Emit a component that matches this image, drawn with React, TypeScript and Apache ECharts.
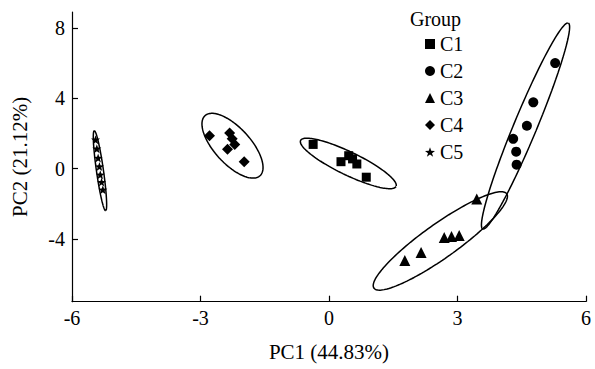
import React, { useEffect, useRef } from "react";
import * as echarts from "echarts";

const groups = ["C1", "C2", "C3", "C4", "C5"];
const c1X = [-0.37, 0.28, 0.46, 0.55, 0.65, 0.87];
const c1Y = [1.38, 0.4, 0.74, 0.56, 0.27, -0.48];
const c2X = [5.28, 4.77, 4.62, 4.3, 4.37, 4.38];
const c2Y = [6.0, 3.77, 2.44, 1.7, 0.97, 0.23];
const c3X = [3.45, 2.69, 2.86, 3.04, 2.15, 1.77];
const c3Y = [-1.72, -3.9, -3.85, -3.79, -4.75, -5.21];
const c4X = [-2.79, -2.32, -2.26, -2.2, -2.37, -1.98];
const c4Y = [1.88, 2.03, 1.7, 1.38, 1.1, 0.4];
const c5X = [-5.45, -5.42, -5.39, -5.36, -5.34, -5.31, -5.28];
const c5Y = [1.65, 1.14, 0.61, 0.13, -0.34, -0.76, -1.19];

// ellipse: centre, major half-axis vector, minor half-axis vector (data units)
const ellCx = [0.451, 4.588, 2.599, -2.253, -5.347];
const ellCy = [0.3, 2.426, -4.1, 1.307, -0.114];
const ellUx = [1.114, 0.999, 1.55, 0.642, 0.133];
const ellUy = [-1.307, 5.85, 2.68, -1.705, -2.273];
const ellVx = [-0.117, 0.248, 0.23, -0.31, -0.081];
const ellVy = [-0.589, -0.25, -0.79, -0.691, -0.028];

const xTicks = [-6, -3, 0, 3, 6];
const yTicks = [-4, 0, 4, 8];

const STAR =
  "path://M0,-10 L2.35,-3.24 L9.51,-3.09 L3.8,1.24 L5.88,8.09 L0,4 L-5.88,8.09 L-3.8,1.24 L-9.51,-3.09 L-2.35,-3.24 Z";

const FONT = "Liberation Serif";

export default function App() {
  const ref = useRef<HTMLDivElement>(null);
  useEffect(() => {
    if (!ref.current) return;
    const chart = echarts.init(ref.current, null, { renderer: "svg" });
    const xs = [c1X, c2X, c3X, c4X, c5X];
    const ys = [c1Y, c2Y, c3Y, c4Y, c5Y];
    const symbols = ["rect", "circle", "triangle", "diamond", STAR];
    const sizes = [9, 10, 11, 11, 9];
    const scatter = groups.map((g, i) => ({
      name: g,
      type: "scatter",
      symbol: symbols[i],
      symbolSize: sizes[i],
      itemStyle: { color: "#000", opacity: 1 },
      data: xs[i].map((x, k) => [x, ys[i][k]]),
      z: 3,
    }));
    const ellipses = groups.map((g, i) => {
      const pts: number[][] = [];
      const N = 160;
      for (let k = 0; k <= N; k++) {
        const t = (2 * Math.PI * k) / N;
        pts.push([
          ellCx[i] + ellUx[i] * Math.cos(t) + ellVx[i] * Math.sin(t),
          ellCy[i] + ellUy[i] * Math.cos(t) + ellVy[i] * Math.sin(t),
        ]);
      }
      return {
        name: g + " ellipse",
        type: "line",
        showSymbol: false,
        symbol: "none",
        data: pts,
        lineStyle: { color: "#000", width: 1.5 },
        z: 2,
        silent: true,
      };
    });
    chart.setOption({
      animation: false,
      grid: { left: 72, right: 9, top: 12, bottom: 67.3 },
      textStyle: { fontFamily: FONT },
      graphic: [
        {
          type: "text",
          left: 410,
          top: 9,
          style: { text: "Group", font: `20px "${FONT}"`, fill: "#000" },
        },
      ],
      legend: {
        orient: "vertical",
        left: 420,
        top: 29,
        itemWidth: 10,
        itemHeight: 10,
        itemGap: 7,
        data: groups.map((g, i) => ({ name: g, icon: symbols[i] })),
        itemStyle: { color: "#000", opacity: 1 },
        textStyle: { fontFamily: FONT, fontSize: 20, color: "#000", lineHeight: 20 },
      },
      xAxis: {
        type: "value",
        min: -6,
        max: 6,
        interval: 3,
        name: "PC1 (44.83%)",
        nameLocation: "middle",
        nameGap: 40,
        nameTextStyle: { fontFamily: FONT, fontSize: 21, color: "#000" },
        axisLine: { show: true, onZero: false, lineStyle: { color: "#000", width: 1.2 } },
        axisTick: { show: true, inside: true, length: 6, lineStyle: { color: "#000", width: 1.2 } },
        axisLabel: { fontFamily: FONT, fontSize: 20, color: "#000", margin: 6, customValues: xTicks },
        splitLine: { show: false },
      },
      yAxis: {
        type: "value",
        min: -7.55,
        max: 8.9,
        name: "PC2 (21.12%)",
        nameLocation: "middle",
        nameGap: 42,
        nameRotate: 90,
        nameTextStyle: { fontFamily: FONT, fontSize: 21, color: "#000" },
        axisLine: { show: true, onZero: false, lineStyle: { color: "#000", width: 1.2 } },
        axisTick: { show: true, inside: true, length: 6, customValues: yTicks, lineStyle: { color: "#000", width: 1.2 } },
        axisLabel: { fontFamily: FONT, fontSize: 20, color: "#000", margin: 7, customValues: yTicks },
        splitLine: { show: false },
      },
      series: [...ellipses, ...scatter],
    });
    return () => chart.dispose();
  }, []);
  return (
    <div
      ref={ref}
      style={{ position: "fixed", left: 0, top: 0, width: 595, height: 369, background: "#fff" }}
    />
  );
}
